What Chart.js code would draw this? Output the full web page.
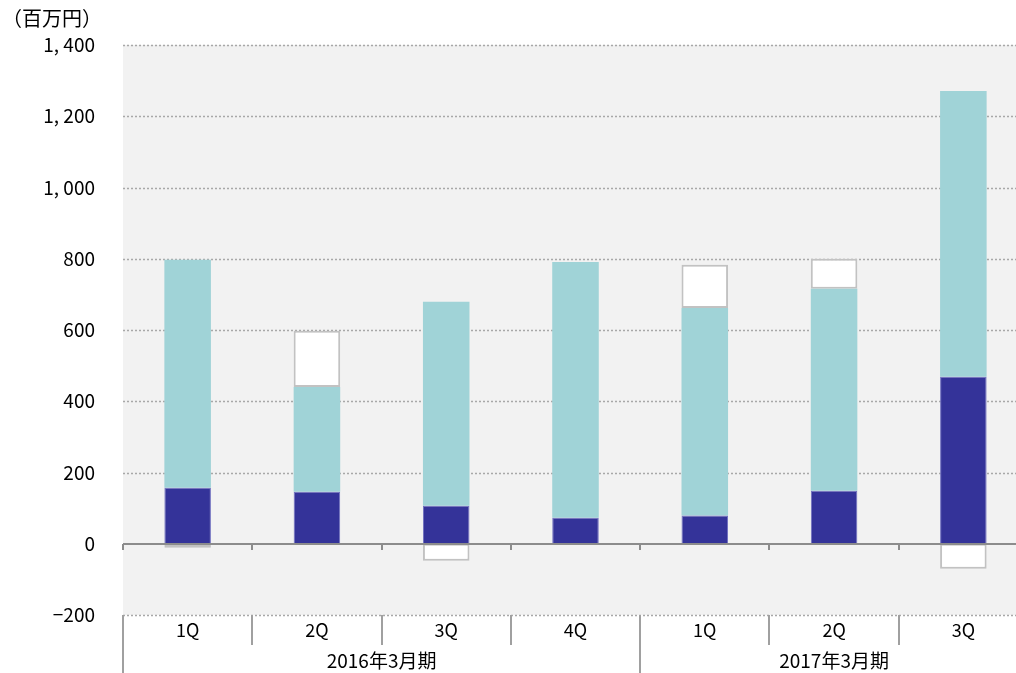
<!DOCTYPE html>
<html>
<head>
<meta charset="utf-8">
<script src="https://cdn.jsdelivr.net/npm/chart.js@4/dist/chart.umd.min.js"></script>
<style>
  html, body { margin: 0; padding: 0; background: #fff; overflow: hidden; }
  #wrap { width: 1028px; height: 673px; }
</style>
</head>
<body>
<div id="wrap"><canvas id="chart" width="1028" height="673"></canvas></div>
<script>
// quarters and fiscal-year groups
const quarters = ['1Q', '2Q', '3Q', '4Q', '1Q', '2Q', '3Q'];
const groups = [
  { label: '2016年3月期', from: 0, to: 3 },
  { label: '2017年3月期', from: 4, to: 6 }
];

// segment values (百万円)
const darkValues = [157, 146, 107, 73, 79, 149, 469];
const tealValues = [640, 294, 572, 718, 583, 567, 802];
const whiteValues = [-11, 158, -48, null, 121, 84, -70];

const yMin = -200;
const yMax = 1400;
const yStep = 200;

const FONT = "'Noto Sans CJK JP', sans-serif";

function fmt(v) {
  if (v < 0) return '\u2212' + Math.abs(v);
  const s = String(v);
  return s.length > 3 ? s.slice(0, s.length - 3) + ', ' + s.slice(-3) : s;
}

// background, dotted grid, zero line, separators and group labels
const decorations = {
  id: 'decorations',
  beforeDatasetsDraw(chart) {
    const { ctx, chartArea: a, scales: { y } } = chart;
    ctx.save();
    ctx.fillStyle = '#f2f2f2';
    ctx.fillRect(a.left, a.top, a.right - a.left, a.bottom - a.top);
    ctx.strokeStyle = '#a8a8a8';
    ctx.lineWidth = 1.5;
    ctx.setLineDash([2, 2]);
    y.ticks.forEach(t => {
      if (t.value === 0) return;
      const py = Math.round(y.getPixelForValue(t.value)) + 0.5;
      ctx.beginPath();
      ctx.moveTo(a.left, py);
      ctx.lineTo(a.right, py);
      ctx.stroke();
    });
    ctx.restore();
  },
  afterDatasetsDraw(chart) {
    const { ctx, chartArea: a, scales: { x, y } } = chart;
    const half = (x.getPixelForValue(1) - x.getPixelForValue(0)) / 2;
    const bounds = [];
    for (let i = 0; i <= quarters.length; i++) {
      bounds.push(i < quarters.length ? x.getPixelForValue(i) - half : x.getPixelForValue(i - 1) + half);
    }
    ctx.save();
    // zero line with small ticks
    const y0 = Math.round(y.getPixelForValue(0));
    ctx.strokeStyle = '#8c8c8c';
    ctx.lineWidth = 2;
    ctx.beginPath();
    ctx.moveTo(a.left, y0);
    ctx.lineTo(a.right, y0);
    ctx.stroke();
    bounds.forEach(bx => {
      ctx.beginPath();
      ctx.moveTo(Math.round(bx), y0);
      ctx.lineTo(Math.round(bx), y0 + 6);
      ctx.stroke();
    });
    // category separators below plot
    ctx.strokeStyle = '#a0a0a0';
    const groupEdges = [0, 4];
    bounds.forEach((bx, i) => {
      const long = groupEdges.includes(i);
      ctx.beginPath();
      ctx.moveTo(Math.round(bx), a.bottom);
      ctx.lineTo(Math.round(bx), long ? chart.height : a.bottom + 30);
      ctx.stroke();
    });
    // group labels
    ctx.fillStyle = '#000';
    ctx.font = '19px ' + FONT;
    ctx.textAlign = 'center';
    ctx.textBaseline = 'middle';
    groups.forEach(g => {
      const cx = (bounds[g.from] + bounds[g.to + 1]) / 2;
      ctx.fillText(g.label, cx, a.bottom + 46);
    });
    // unit label
    ctx.textAlign = 'left';
    ctx.font = '20px ' + FONT;
    ctx.fillText('（百万円）', 2, 18);
    ctx.restore();
  }
};

new Chart(document.getElementById('chart'), {
  type: 'bar',
  data: {
    labels: quarters,
    datasets: [
      {
        label: 'dark',
        data: darkValues,
        backgroundColor: '#343399',
        borderColor: '#6f6fbf',
        borderWidth: 1,
        barPercentage: 0.36,
        categoryPercentage: 1
      },
      {
        label: 'teal',
        data: tealValues,
        backgroundColor: '#a0d3d7',
        borderWidth: 0,
        barPercentage: 0.36,
        categoryPercentage: 1
      },
      {
        label: 'white',
        data: whiteValues,
        backgroundColor: '#ffffff',
        borderColor: '#c2c2c2',
        borderWidth: 2,
        borderSkipped: false,
        barPercentage: 0.36,
        categoryPercentage: 1
      }
    ]
  },
  options: {
    responsive: false,
    animation: false,
    devicePixelRatio: 1,
    layout: { padding: { top: 45, left: 0, right: 0, bottom: 0 } },
    plugins: {
      legend: { display: false },
      tooltip: { enabled: false }
    },
    scales: {
      x: {
        stacked: true,
        grid: { display: false, drawTicks: false },
        border: { display: false },
        ticks: {
          color: '#000',
          font: { family: FONT, size: 18 },
          padding: 4,
          maxRotation: 0
        },
        afterFit(scale) { scale.height = 58; }
      },
      y: {
        stacked: true,
        min: yMin,
        max: yMax,
        grid: { display: false, drawTicks: false },
        border: { display: false },
        ticks: {
          stepSize: yStep,
          color: '#000',
          font: { family: FONT, size: 19 },
          padding: 28,
          callback: v => fmt(v)
        },
        afterFit(scale) { scale.width = 123; }
      }
    }
  },
  plugins: [decorations]
});
</script>
</body>
</html>
